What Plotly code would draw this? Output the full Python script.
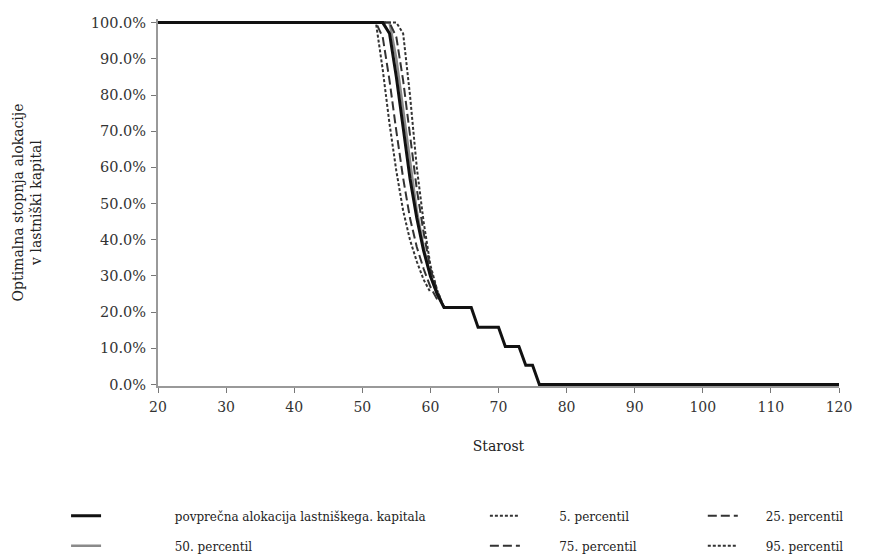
import plotly.graph_objects as go

# ---- data ----
ages_mean = list(range(20, 121))
mean_fan = {53: 100, 54: 97, 55: 85, 56: 71, 57: 57, 58: 46, 59: 37, 60: 30, 61: 25, 62: 21.3,
            63: 21.3, 64: 21.3, 65: 21.3, 66: 21.3, 67: 15.8, 68: 15.8, 69: 15.8, 70: 15.8,
            71: 10.5, 72: 10.5, 73: 10.5, 74: 5.3, 75: 5.3, 76: 0}
mean_alloc = [100 if a < 53 else (mean_fan[a] if a in mean_fan else 0) for a in ages_mean]

ages_pct = list(range(20, 63))
p5_part = {52: 100, 53: 87, 54: 72, 55: 59, 56: 48, 57: 40, 58: 34, 59: 29, 60: 25.5}
p25_part = {52: 100, 53: 96, 54: 84, 55: 70, 56: 57, 57: 46, 58: 38, 59: 32, 60: 27, 61: 23.5}
p50_part = {54: 100, 55: 90, 56: 76, 57: 61, 58: 48, 59: 38, 60: 30, 61: 25, 62: 21.3}
p75_part = {54: 100, 55: 96, 56: 84, 57: 69, 58: 54, 59: 42, 60: 32, 61: 26, 62: 21.3}
p95_part = {55: 100, 56: 97, 57: 80, 58: 60, 59: 45, 60: 33, 61: 26, 62: 21.3}


def build(part):
    first = min(part)
    last = max(part)
    xs, ys = [], []
    for a in ages_pct:
        if a > last:
            break
        xs.append(a)
        ys.append(100 if a < first else part[a])
    return xs, ys


x_ticks = list(range(20, 121, 10))
y_ticks = list(range(0, 101, 10))

names = {
    "mean": "povprečna alokacija lastniškega. kapitala",
    "p5": "5. percentil",
    "p25": "25. percentil",
    "p50": "50. percentil",
    "p75": "75. percentil",
    "p95": "95. percentil",
}

pad1 = "\u00a0" * 18
pad2 = "\u00a0" * 9
pad3 = "\u00a0" * 6
fig = go.Figure()

x5, y5 = build(p5_part)
x25, y25 = build(p25_part)
x50, y50 = build(p50_part)
x75, y75 = build(p75_part)
x95, y95 = build(p95_part)

fig.add_trace(go.Scatter(x=x50, y=y50, mode="lines", name=pad1 + names["p50"], legendgroup="g50",
                         line=dict(color="#8a8a8a", width=2.5), legend="legend", legendrank=2))
fig.add_trace(go.Scatter(x=x5, y=y5, mode="lines", name=pad2 + names["p5"], legendgroup="g5",
                         line=dict(color="#333333", width=2, dash="3px,2px"), legend="legend2", legendrank=1))
fig.add_trace(go.Scatter(x=x95, y=y95, mode="lines", name=pad3 + names["p95"], legendgroup="g95",
                         line=dict(color="#333333", width=2, dash="3px,2px"), legend="legend3", legendrank=2))
fig.add_trace(go.Scatter(x=x25, y=y25, mode="lines", name=pad3 + names["p25"], legendgroup="g25",
                         line=dict(color="#333333", width=2, dash="9px,4px"), legend="legend3", legendrank=1))
fig.add_trace(go.Scatter(x=x75, y=y75, mode="lines", name=pad2 + names["p75"], legendgroup="g75",
                         line=dict(color="#333333", width=2, dash="9px,4px"), legend="legend2", legendrank=2))
fig.add_trace(go.Scatter(x=ages_mean, y=mean_alloc, mode="lines", name=pad1 + names["mean"], legendgroup="gm",
                         line=dict(color="#111111", width=3), legend="legend", legendrank=1))

serif = "DejaVu Serif"
leg_common = dict(orientation="v", yanchor="bottom", xanchor="left", bgcolor="rgba(0,0,0,0)",
                  font=dict(family=serif, size=12, color="#222"), tracegroupgap=11,
                  itemwidth=30, traceorder="grouped")

fig.update_layout(
    width=885, height=560,
    margin=dict(l=158, r=46, t=19, b=174, autoexpand=False),
    paper_bgcolor="white", plot_bgcolor="white",
    font=dict(family=serif, size=12, color="#333"),
    showlegend=True,
    legend=dict(x=-0.135, y=-0.475, **leg_common),
    legend2=dict(x=0.48, y=-0.475, **leg_common),
    legend3=dict(x=0.80, y=-0.475, **leg_common),
    xaxis=dict(range=[20, 120], tickvals=x_ticks, ticktext=[str(t) for t in x_ticks],
               showgrid=False, zeroline=False, showline=True, linecolor="#999", linewidth=2,
               ticks="outside", ticklen=5, tickcolor="#777", tickwidth=1, automargin=False,
               ticklabelstandoff=2,
               tickfont=dict(family=serif, size=14, color="#333"),
               title=dict(text="Starost", font=dict(family=serif, size=14, color="#222"), standoff=27)),
    yaxis=dict(range=[-0.4, 101], tickvals=y_ticks, ticktext=[f"{t:.1f}%" for t in y_ticks],
               showgrid=False, zeroline=False, showline=True, linecolor="#999", linewidth=2,
               ticks="outside", ticklen=5, tickcolor="#777", tickwidth=1, automargin=False,
               ticklabelstandoff=2,
               tickfont=dict(family=serif, size=14.5, color="#333"),
               title=dict(text="Optimalna stopnja alokacije<br>v lastniški kapital",
                          font=dict(family=serif, size=14, color="#222"), standoff=46)),
)

fig.write_html("out.html")
